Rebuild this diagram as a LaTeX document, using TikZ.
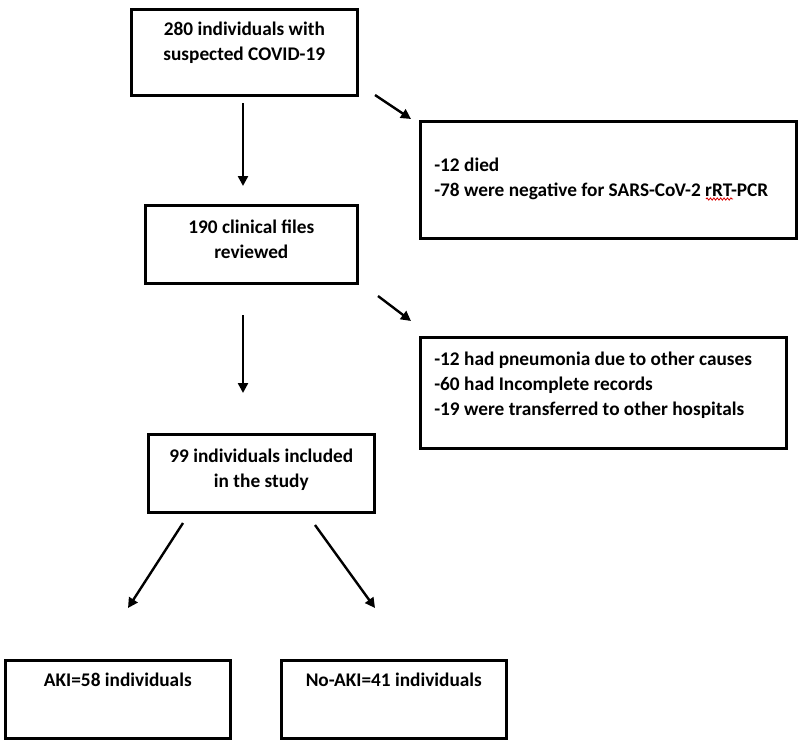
\documentclass[tikz,border=0pt]{standalone}
\usepackage{fontspec}
\setmainfont{Carlito}
\usetikzlibrary{arrows.meta,decorations.pathmorphing}
\newcommand{\boxfont}{\bfseries\fontsize{19.3}{25}\selectfont}
\tikzset{
  flowbox/.style={draw=black, line width=2.6pt, inner sep=0pt, anchor=north west, font=\boxfont},
  flowarrow/.style={line width=2.4pt, -{Triangle[length=10pt,width=10pt]}},
  squiggle/.style={draw=red!85!black, line width=0.8pt, decorate, decoration={snake, amplitude=1.1pt, segment length=3.4pt}}
}
\newcommand{\cbox}[4]{\parbox[t][#2pt][t]{#1pt}{\centering\rule{0pt}{#3pt}#4}}
\newcommand{\lbox}[4]{\parbox[t][#2pt][t]{#1pt}{\raggedright\leftskip=14pt\rule{0pt}{#3pt}#4}}
\begin{document}
\begin{tikzpicture}[x=1pt,y=-1pt]
\useasboundingbox (0,0) rectangle (800,747);
\node[flowbox] (b1) at (130,8) {\cbox{226}{86}{26}{280 individuals with\\suspected COVID-19}};
\node[flowbox] (b2) at (419,120) {\lbox{376}{117}{50}{-12 died\\-78 were negative for SARS-CoV-2 rRT-PCR}};
\node[flowbox] (b3) at (144,204) {\cbox{212}{78}{28}{190 clinical files\\reviewed}};
\node[flowbox] (b4) at (419,336) {\lbox{366}{111}{28}{-12 had pneumonia due to other causes\\-60 had Incomplete records\\-19 were transferred to other hospitals}};
\node[flowbox] (b5) at (147,433) {\cbox{226}{78}{28}{99 individuals included\\in the study}};
\node[flowbox] (b6) at (4,659) {\cbox{225}{78}{26}{AKI=58 individuals}};
\node[flowbox] (b7) at (280,659) {\cbox{225}{78}{26}{No-AKI=41 individuals}};
\coordinate (a1s) at (243,103);
\coordinate (a1e) at (243,186);
\coordinate (a2s) at (375,95);
\coordinate (a2e) at (411,119);
\coordinate (a3s) at (378,296);
\coordinate (a3e) at (411,321);
\coordinate (a4s) at (243,315);
\coordinate (a4e) at (243,393);
\coordinate (a5s) at (183,523);
\coordinate (a5e) at (128,608);
\coordinate (a6s) at (315,525);
\coordinate (a6e) at (375,608);
\draw[flowarrow] (a1s) -- (a1e);
\draw[flowarrow] (a2s) -- (a2e);
\draw[flowarrow] (a3s) -- (a3e);
\draw[flowarrow] (a4s) -- (a4e);
\draw[flowarrow] (a5s) -- (a5e);
\draw[flowarrow] (a6s) -- (a6e);
\coordinate (sq1) at (706,199);
\coordinate (sq2) at (733,199);
\draw[squiggle] (sq1) -- (sq2);
\end{tikzpicture}
\end{document}
